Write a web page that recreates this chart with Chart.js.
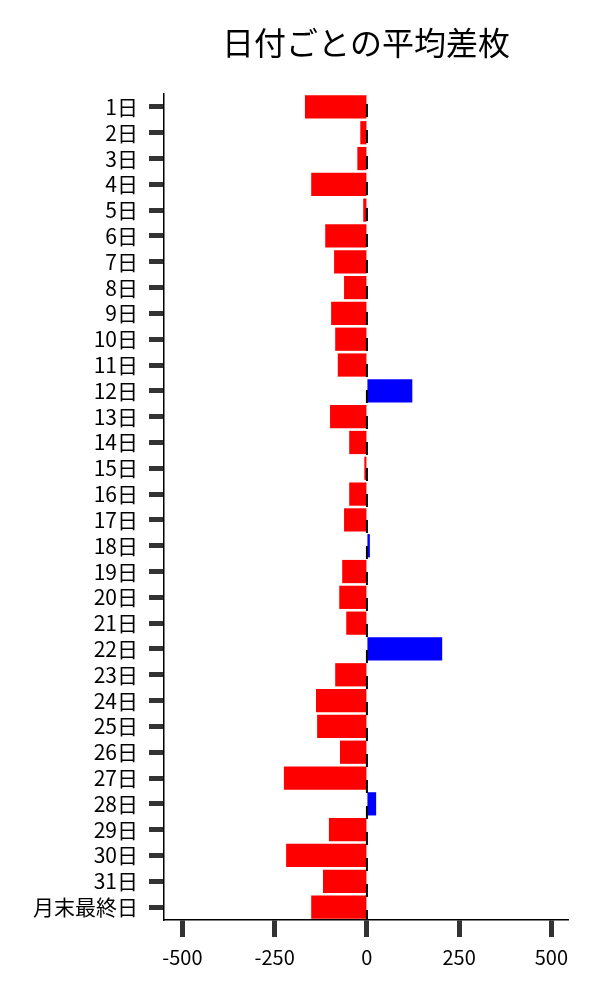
<!DOCTYPE html>
<html>
<head>
<meta charset="utf-8">
<script src="https://cdn.jsdelivr.net/npm/chart.js@4"></script>
<style>
  body { margin: 0; background: #fff; }
  #wrap { width: 600px; height: 1000px; }
</style>
</head>
<body>
<div id="wrap"><canvas id="diffChart"></canvas></div>
<script>
const days = ['1日', '2日', '3日', '4日', '5日', '6日', '7日', '8日', '9日', '10日',
  '11日', '12日', '13日', '14日', '15日', '16日', '17日', '18日', '19日', '20日',
  '21日', '22日', '23日', '24日', '25日', '26日', '27日', '28日', '29日', '30日',
  '31日', '月末最終日'];
const avgDiff = [-168, -18, -26, -151, -10, -113, -89, -62, -97, -86,
  -79, 123, -100, -48, -7, -48, -62, 8, -67, -75,
  -56, 204, -86, -138, -135, -73, -225, 25, -103, -219,
  -119, -151];
const xTicks = [-500, -250, 0, 250, 500];
const titleText = '日付ごとの平均差枚';

const FONT = "'Noto Sans CJK JP', 'Noto Sans', sans-serif";

// title centred over the plot area, plus the dashed zero line
const extras = {
  id: 'extras',
  afterDatasetsDraw(chart) {
    const { ctx, chartArea, scales } = chart;
    const x0 = scales.x.getPixelForValue(0);
    ctx.save();
    ctx.strokeStyle = '#000';
    ctx.lineWidth = 2;
    ctx.setLineDash([13, 13]);
    ctx.beginPath();
    ctx.moveTo(x0, chartArea.top + 10);
    ctx.lineTo(x0, chartArea.bottom);
    ctx.stroke();
    ctx.restore();
  },
  afterDraw(chart) {
    const { ctx, chartArea } = chart;
    ctx.save();
    ctx.fillStyle = '#000';
    ctx.font = '32px ' + FONT;
    ctx.textAlign = 'center';
    ctx.textBaseline = 'middle';
    ctx.fillText(titleText, (chartArea.left + chartArea.right) / 2, 43);
    ctx.restore();
  }
};

new Chart(document.getElementById('diffChart'), {
  type: 'bar',
  data: {
    labels: days,
    datasets: [{
      data: avgDiff,
      backgroundColor: avgDiff.map(v => v >= 0 ? '#0000ff' : '#ff0000'),
      barPercentage: 0.9,
      categoryPercentage: 1.0
    }]
  },
  options: {
    indexAxis: 'y',
    responsive: true,
    maintainAspectRatio: false,
    animation: false,
    layout: { padding: { top: 94, right: 32, left: 0, bottom: 0 } },
    plugins: {
      legend: { display: false },
      title: { display: false },
      tooltip: { enabled: false }
    },
    scales: {
      x: {
        min: -550,
        max: 545,
        afterBuildTicks: axis => { axis.ticks = xTicks.map(v => ({ value: v })); },
        afterFit: axis => { axis.height = 80; },
        grid: {
          drawOnChartArea: false,
          drawTicks: true,
          tickLength: 17,
          tickWidth: 5,
          tickColor: '#333'
        },
        border: { display: true, color: '#000', width: 1.5 },
        ticks: {
          color: '#000',
          padding: 8,
          font: { family: FONT, size: 20 }
        }
      },
      y: {
        afterFit: axis => { axis.width = 164; },
        grid: {
          offset: false,
          drawOnChartArea: false,
          drawTicks: true,
          tickLength: 15,
          tickWidth: 5,
          tickColor: '#333'
        },
        border: { display: true, color: '#000', width: 1.5 },
        ticks: {
          color: '#000',
          padding: 11,
          autoSkip: false,
          font: { family: FONT, size: 21 }
        }
      }
    }
  },
  plugins: [extras]
});
</script>
</body>
</html>
